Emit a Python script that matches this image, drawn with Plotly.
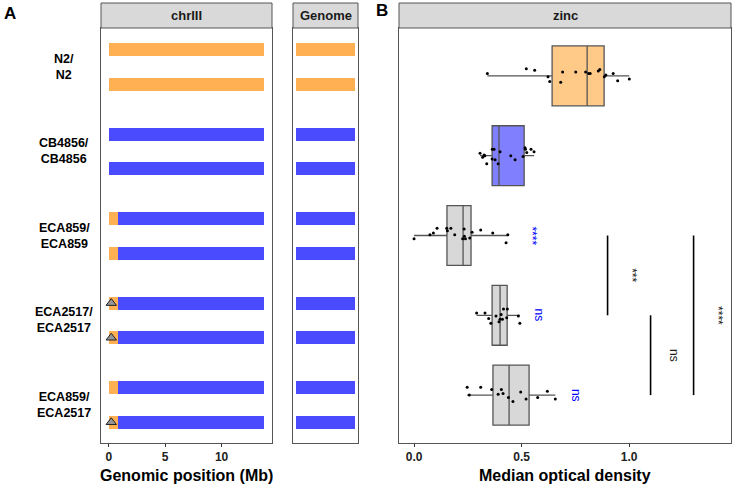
import plotly.graph_objects as go

W, H = 733, 485

# ---------------- data ----------------
strains = ["N2/N2", "CB4856/CB4856", "ECA859/ECA859", "ECA2517/ECA2517", "ECA859/ECA2517"]
strain_labels = ["N2/<br>N2", "CB4856/<br>CB4856", "ECA859/<br>ECA859", "ECA2517/<br>ECA2517", "ECA859/<br>ECA2517"]

chr_len = 13.78
# chrIII segments: strain index, strand (1/2), start (Mb), end (Mb), genotype
seg_strain = [0, 0, 1, 1, 2, 2, 2, 2, 3, 3, 3, 3, 4, 4, 4, 4]
seg_strand = [1, 2, 1, 2, 1, 1, 2, 2, 1, 1, 2, 2, 1, 1, 2, 2]
seg_start = [0, 0, 0, 0, 0, 0.8, 0, 0.8, 0, 0.8, 0, 0.8, 0, 0.8, 0, 0.8]
seg_end = [13.78, 13.78, 13.78, 13.78, 0.8, 13.78, 0.8, 13.78, 0.8, 13.78, 0.8, 13.78, 0.8, 13.78, 0.8, 13.78]
seg_geno = ["N2", "N2", "CB4856", "CB4856", "N2", "CB4856", "N2", "CB4856",
            "N2", "CB4856", "N2", "CB4856", "N2", "CB4856", "N2", "CB4856"]

# genome background per strand
gen_strain = [0, 0, 1, 1, 2, 2, 3, 3, 4, 4]
gen_strand = [1, 2, 1, 2, 1, 2, 1, 2, 1, 2]
gen_geno = ["N2", "N2", "CB4856", "CB4856", "CB4856", "CB4856", "CB4856", "CB4856", "CB4856", "CB4856"]

# deletion markers
del_strain = [3, 3, 4]
del_strand = [1, 2, 2]
del_pos = [0.22, 0.22, 0.22]

# zinc boxplot summary (median optical density)
box_q1 = [0.642, 0.363, 0.153, 0.363, 0.367]
box_med = [0.805, 0.395, 0.228, 0.400, 0.442]
box_q3 = [0.884, 0.512, 0.265, 0.433, 0.535]
box_lo = [0.341, 0.307, 0.0, 0.291, 0.247]
box_hi = [1.001, 0.558, 0.436, 0.492, 0.657]

# individual replicate values and jitter offsets
pts_N2 = [0.341, 0.522, 0.561, 0.623, 0.631, 0.682, 0.691, 0.752, 0.798, 0.812, 0.819, 0.857, 0.864, 0.885, 0.892, 0.926, 0.947, 1.001]
jit_N2 = [-0.03, -0.09, -0.07, 0.01, 0.07, 0.08, -0.05, -0.05, -0.05, -0.03, -0.03, -0.06, -0.08, 0.01, -0.01, -0.03, 0.06, 0.04]
pts_CB = [0.307, 0.319, 0.326, 0.329, 0.338, 0.363, 0.364, 0.372, 0.377, 0.391, 0.400, 0.450, 0.470, 0.507, 0.516, 0.518, 0.524, 0.544, 0.558]
jit_CB = [-0.03, 0.02, -0.01, 0.0, 0.10, 0.04, -0.08, -0.08, 0.05, 0.10, -0.05, 0.0, 0.05, 0.01, -0.10, -0.08, -0.04, -0.08, -0.05]
pts_859 = [0.0, 0.074, 0.090, 0.107, 0.152, 0.155, 0.171, 0.189, 0.226, 0.233, 0.234, 0.239, 0.259, 0.270, 0.310, 0.366, 0.436, 0.428]
jit_859 = [0.04, -0.01, -0.03, -0.09, -0.09, -0.06, -0.09, -0.01, 0.04, -0.08, 0.01, 0.04, 0.03, -0.04, -0.07, -0.03, -0.01, 0.09]
pts_2517 = [0.291, 0.330, 0.347, 0.357, 0.381, 0.395, 0.400, 0.405, 0.411, 0.416, 0.431, 0.434, 0.485, 0.492]
jit_2517 = [-0.03, -0.03, 0.04, 0.10, 0.01, 0.08, 0.05, -0.01, 0.05, -0.08, 0.03, -0.08, 0.01, 0.10]
pts_het = [0.247, 0.310, 0.257, 0.361, 0.391, 0.406, 0.414, 0.439, 0.460, 0.496, 0.521, 0.575, 0.620, 0.657]
jit_het = [-0.10, -0.10, 0.0, -0.07, -0.01, -0.07, -0.02, 0.03, 0.08, -0.04, 0.05, 0.03, -0.05, 0.05]
pts_all = [pts_N2, pts_CB, pts_859, pts_2517, pts_het]
jit_all = [jit_N2, jit_CB, jit_859, jit_2517, jit_het]

# significance vs N2 (blue) and pairwise (black)
sig_ref_strain = [2, 3, 4]
sig_ref_label = ["****", "ns", "ns"]
sig_ref_x = [0.549, 0.580, 0.754]
pair_a = [2, 3, 2]
pair_b = [3, 4, 4]
pair_x = [0.90, 1.10, 1.30]
pair_label = ["***", "ns", "****"]

# ---------------- styling ----------------
geno_color = {"N2": "rgb(255,176,82)", "CB4856": "rgb(74,74,255)"}
box_fill = ["rgb(255,202,135)", "rgb(128,128,255)", "rgb(216,216,216)", "rgb(216,216,216)", "rgb(216,216,216)"]
FONT = "Liberation Sans, Arial, sans-serif"
BORDER = "#555555"
strand_off = {1: -0.205, 2: 0.205}
bar_h = 0.155


def px(x):
    return x / W


def py(y):
    return 1 - y / H


fig = go.Figure()

# chrIII segments
for s, st, a, b, g in zip(seg_strain, seg_strand, seg_start, seg_end, seg_geno):
    fig.add_trace(go.Bar(x=[b - a], base=[a], y=[s + strand_off[st]], orientation="h",
                         width=bar_h, marker=dict(color=geno_color[g], line=dict(width=0)),
                         xaxis="x", yaxis="y", showlegend=False, hoverinfo="skip"))

# deletion markers
fig.add_trace(go.Scatter(x=del_pos, y=[s + strand_off[st] for s, st in zip(del_strain, del_strand)],
                         mode="markers", xaxis="x", yaxis="y", showlegend=False,
                         marker=dict(symbol="triangle-up", size=9, color="rgb(150,150,150)",
                                     line=dict(color="#222222", width=1))))

# genome backgrounds
for s, st, g in zip(gen_strain, gen_strand, gen_geno):
    fig.add_trace(go.Bar(x=[1], base=[0], y=[s + strand_off[st]], orientation="h",
                         width=bar_h, marker=dict(color=geno_color[g], line=dict(width=0)),
                         xaxis="x2", yaxis="y2", showlegend=False, hoverinfo="skip"))

# boxplots
for i in range(len(strains)):
    fig.add_trace(go.Box(y=[i], q1=[box_q1[i]], median=[box_med[i]], q3=[box_q3[i]],
                         lowerfence=[box_lo[i]], upperfence=[box_hi[i]], orientation="h",
                         width=0.75, whiskerwidth=0, fillcolor=box_fill[i],
                         line=dict(color="#555555", width=1.3), boxpoints=False,
                         xaxis="x3", yaxis="y3", showlegend=False))
    fig.add_trace(go.Scatter(x=pts_all[i], y=[i + j for j in jit_all[i]], mode="markers",
                             marker=dict(size=3, color="black"), xaxis="x3", yaxis="y3",
                             showlegend=False))

# pairwise bracket lines
for a, b, x in zip(pair_a, pair_b, pair_x):
    fig.add_trace(go.Scatter(x=[x, x], y=[a, b], mode="lines", line=dict(color="black", width=1.6),
                             xaxis="x3", yaxis="y3", showlegend=False))


def ann(**kw):
    kw.setdefault("showarrow", False)
    kw.setdefault("xanchor", "center")
    kw.setdefault("yanchor", "middle")
    return kw


annotations = []
for s, lab, x in zip(sig_ref_strain, sig_ref_label, sig_ref_x):
    annotations.append(ann(x=x, y=s, xref="x3", yref="y3", text=lab, textangle=90,
                           font=dict(family=FONT, size=12, color="blue")))
for a, b, x, lab in zip(pair_a, pair_b, pair_x, pair_label):
    annotations.append(ann(x=x + 0.11, y=(a + b) / 2, xref="x3", yref="y3", text=lab,
                           textangle=90, font=dict(family=FONT, size=12, color="#1a1a1a")))

# strain labels
for i, lab in enumerate(strain_labels):
    annotations.append(ann(x=px(64), y=i, xref="paper", yref="y", text="<b>" + lab + "</b>",
                           align="center", font=dict(family=FONT, size=12.5, color="black")))

# strips
shapes = []
strips = [(101, 272, "chrIII"), (293, 358, "Genome"), (399, 731, "zinc")]
for x0, x1, t in strips:
    shapes.append(dict(type="rect", xref="paper", yref="paper", x0=px(x0), x1=px(x1),
                       y0=py(28), y1=py(3), fillcolor="rgb(217,217,217)",
                       line=dict(color=BORDER, width=1)))
    annotations.append(ann(x=px((x0 + x1) / 2), y=py(15.5), xref="paper", yref="paper",
                           text="<b>" + t + "</b>",
                           font=dict(family=FONT, size=13, color="#1a1a1a")))

# panel letters and axis titles
annotations += [
    ann(x=px(2), y=py(13), xref="paper", yref="paper", text="<b>A</b>", xanchor="left",
        font=dict(family=FONT, size=17, color="black")),
    ann(x=px(374), y=py(10), xref="paper", yref="paper", text="<b>B</b>", xanchor="left",
        font=dict(family=FONT, size=17, color="black")),
    ann(x=px(186.5), y=py(475), xref="paper", yref="paper", text="<b>Genomic position (Mb)</b>",
        font=dict(family=FONT, size=16, color="black")),
    ann(x=px(565), y=py(475), xref="paper", yref="paper", text="<b>Median optical density</b>",
        font=dict(family=FONT, size=16, color="black")),
]

ydom = [py(443), py(28)]
common_x = dict(showgrid=False, zeroline=False, showline=True, mirror=True, linecolor=BORDER,
                linewidth=1, ticks="outside", ticklen=3, tickcolor="#333333",
                tickfont=dict(family=FONT, size=12, color="#222222", weight="bold"))
common_y = dict(showgrid=False, zeroline=False, showline=True, mirror=True, linecolor=BORDER,
                linewidth=1, showticklabels=False, ticks="")

fig.update_layout(
    width=W, height=H, margin=dict(l=0, r=0, t=0, b=0),
    paper_bgcolor="white", plot_bgcolor="white", barmode="overlay", bargap=0,
    xaxis=dict(domain=[px(101), px(272)], range=[-0.69, 14.47], tickvals=[0, 5, 10],
               anchor="y", **common_x),
    yaxis=dict(domain=ydom, range=[4.45, -0.46], anchor="x", **common_y),
    xaxis2=dict(domain=[px(293), px(358)], range=[-0.05, 1.05], anchor="y2",
                showgrid=False, zeroline=False, showline=True, mirror=True, linecolor=BORDER,
                linewidth=1, showticklabels=False, ticks=""),
    yaxis2=dict(domain=ydom, range=[4.45, -0.46], anchor="x2", **common_y),
    xaxis3=dict(domain=[px(399), px(731)], range=[-0.07, 1.474], tickvals=[0, 0.5, 1.0],
                ticktext=["0.0", "0.5", "1.0"], anchor="y3", **common_x),
    yaxis3=dict(domain=ydom, range=[4.6, -0.6], anchor="x3", **common_y),
    shapes=shapes, annotations=annotations,
)

fig.write_html("out.html", config={"displayModeBar": False},
               post_script="document.body.style.margin='0';document.body.style.overflow='hidden';")
